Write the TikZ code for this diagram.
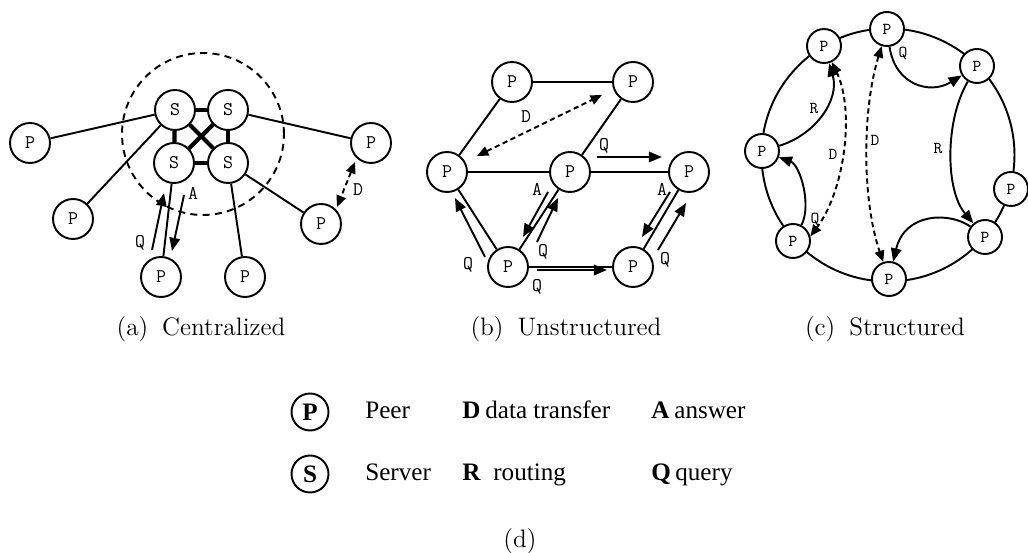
\documentclass[tikz,border=0pt]{standalone}
\usepackage{fontspec}
\newfontfamily\timesfont{Liberation Serif}
\usetikzlibrary{arrows.meta}

\begin{document}
\begin{tikzpicture}[x=0.02cm,y=-0.02cm,
  peer/.style={circle,draw,line width=1.1pt,fill=white,minimum size=0.8cm,
    inner sep=0pt,font=\ttfamily\fontsize{11}{11}\selectfont},
  speer/.style={peer,minimum size=0.68cm,font=\ttfamily\fontsize{9.5}{10}\selectfont},
  link/.style={line width=1.1pt},
  srvlink/.style={line width=2.4pt},
  msg/.style={line width=1.1pt,-{Triangle[length=7.5pt,width=6pt]}},
  dmsg/.style={line width=1.1pt,dash pattern=on 3pt off 2pt,
    {Triangle[length=6.5pt,width=5.5pt]}-{Triangle[length=6.5pt,width=5.5pt]}},
  lbl/.style={font=\ttfamily\fontsize{11}{11}\selectfont,inner sep=0pt},
  slbl/.style={font=\ttfamily\fontsize{9.5}{10}\selectfont,inner sep=0pt},
  subcap/.style={font=\fontsize{14.4}{17}\selectfont,anchor=base,inner sep=0pt},
  legc/.style={circle,draw,line width=1.1pt,minimum size=0.74cm,inner sep=0pt,
    font=\timesfont\bfseries\fontsize{14.3}{15}\selectfont},
  legt/.style={anchor=base west,inner sep=0pt,font=\timesfont\fontsize{14.3}{15}\selectfont},
]
\useasboundingbox (0,0) rectangle (1028,553);

% ---------------- (a) centralized ----------------
\draw[line width=1.1pt,dash pattern=on 4pt off 3pt] (203,134) circle[radius=1.62cm];
\node[peer] (s1) at (175,110) {S};
\node[peer] (s2) at (228,110) {S};
\node[peer] (s3) at (174,163) {S};
\node[peer] (s4) at (228,163) {S};
\node[peer] (a1) at (30,143) {P};
\node[peer] (a2) at (73,219) {P};
\node[peer] (a3) at (161,277) {P};
\node[peer] (a4) at (245,277) {P};
\node[peer] (a5) at (321,224) {P};
\node[peer] (a6) at (371,143) {P};
\draw[srvlink] (s1) -- (s2);
\draw[srvlink] (s1) -- (s3);
\draw[srvlink] (s2) -- (s4);
\draw[srvlink] (s3) -- (s4);
\draw[srvlink] (s1) -- (s4);
\draw[srvlink] (s2) -- (s3);
\draw[link] (s1) -- (a1);
\draw[link] (s1) -- (a2);
\draw[link] (s3) -- (a3);
\draw[link] (s4) -- (a4);
\draw[link] (s4) -- (a5);
\draw[link] (s2) -- (a6);
\coordinate (qa0) at (152,250);
\coordinate (qa1) at (164,193);
\coordinate (aa0) at (184,195);
\coordinate (aa1) at (172,251);
\draw[msg] (qa0) -- (qa1);
\draw[msg] (aa0) -- (aa1);
\node[lbl] at (140,243) {Q};
\node[lbl] at (193,193) {A};
\coordinate (da0) at (355,162);
\coordinate (da1) at (337,207);
\draw[dmsg] (da0) -- (da1);
\node[lbl] at (358,190) {D};
\node[subcap] at (201,336) {(a)\hspace{0.55em}Centralized};

% ---------------- (b) unstructured ----------------
\node[peer] (b1) at (512,82) {P};
\node[peer] (b2) at (633,82) {P};
\node[peer] (b3) at (447,172) {P};
\node[peer] (b4) at (570,172) {P};
\node[peer] (b5) at (689,172) {P};
\node[peer] (b6) at (508,267) {P};
\node[peer] (b7) at (633,267) {P};
\draw[link] (b1) -- (b2);
\draw[link] (b1) -- (b3);
\draw[link] (b2) -- (b4);
\draw[link] (b3) -- (b4);
\draw[link] (b4) -- (b5);
\draw[link] (b3) -- (b6);
\draw[link] (b4) -- (b6);
\draw[link] (b6) -- (b7);
\draw[link] (b7) -- (b5);
\coordinate (db0) at (477,156);
\coordinate (db1) at (602,95);
\draw[dmsg] (db0) -- (db1);
\node[lbl] at (526,117) {D};
\coordinate (q1a) at (597,157);
\coordinate (q1b) at (662,157);
\draw[msg] (q1a) -- (q1b);
\node[lbl] at (604,146) {Q};
\coordinate (q2a) at (485,257);
\coordinate (q2b) at (455,198);
\draw[msg] (q2a) -- (q2b);
\node[lbl] at (468,265) {Q};
\coordinate (a1a) at (548,192);
\coordinate (a1b) at (523,237);
\draw[msg] (a1a) -- (a1b);
\node[lbl] at (537,189) {A};
\coordinate (q3a) at (537,242);
\coordinate (q3b) at (558,198);
\draw[msg] (q3a) -- (q3b);
\node[lbl] at (543,252) {Q};
\coordinate (q4a) at (537,270);
\coordinate (q4b) at (607,270);
\draw[msg] (q4a) -- (q4b);
\node[lbl] at (537,287) {Q};
\coordinate (a2a) at (670,192);
\coordinate (a2b) at (642,237);
\draw[msg] (a2a) -- (a2b);
\node[lbl] at (662,189) {A};
\coordinate (q5a) at (658,250);
\coordinate (q5b) at (686,203);
\draw[msg] (q5a) -- (q5b);
\node[lbl] at (665,260) {Q};
\node[subcap] at (566,336) {(b)\hspace{0.55em}Unstructured};

% ---------------- (c) structured ----------------
\draw[link] (888,155) circle[radius=2.53cm];
\node[speer] (c1) at (887,29) {P};
\node[speer] (c2) at (824,46) {P};
\node[speer] (c3) at (977,66) {P};
\node[speer] (c4) at (762,151) {P};
\node[speer] (c5) at (1011,189) {P};
\node[speer] (c6) at (793,241) {P};
\node[speer] (c7) at (985,237) {P};
\node[speer] (c8) at (889,279) {P};
\draw[msg] (c1) .. controls (895,85) and (930,95) .. (c3);
\node[slbl] at (903,53) {Q};
\draw[msg] (c3) .. controls (945,120) and (945,190) .. (c7);
\node[slbl] at (938,148) {R};
\draw[msg] (c7) .. controls (950,212) and (905,212) .. (c8);
\draw[msg] (c6) .. controls (812,205) and (800,165) .. (c4);
\draw[msg] (c4) .. controls (815,135) and (840,100) .. (c2);
\node[slbl] at (814,108) {R};
\draw[dmsg] (c2) .. controls (855,110) and (845,190) .. (c6.15);
\node[slbl] at (833,154) {D};
\node[slbl] at (815,219) {Q};
\draw[dmsg] (c1) .. controls (862,110) and (862,200) .. (c8);
\node[slbl] at (875,140) {D};
\node[subcap] at (885,336) {(c)\hspace{0.55em}Structured};

% ---------------- (d) legend ----------------
\node[legc] (lp) at (310,412) {P};
\node[legc] (ls) at (310,474) {S};
\node[legt] at (365,419) {Peer};
\node[legt] at (365,481) {Server};
\node[legt] at (462,419) {\bfseries D};
\node[legt] at (485,419) {data transfer};
\node[legt] at (462,481) {\bfseries R};
\node[legt] at (493,481) {routing};
\node[legt] at (651,419) {\bfseries A};
\node[legt] at (674,419) {answer};
\node[legt] at (651,481) {\bfseries Q};
\node[legt] at (675,481) {query};
\node[subcap] at (520,548) {(d)};
\end{tikzpicture}
\end{document}
